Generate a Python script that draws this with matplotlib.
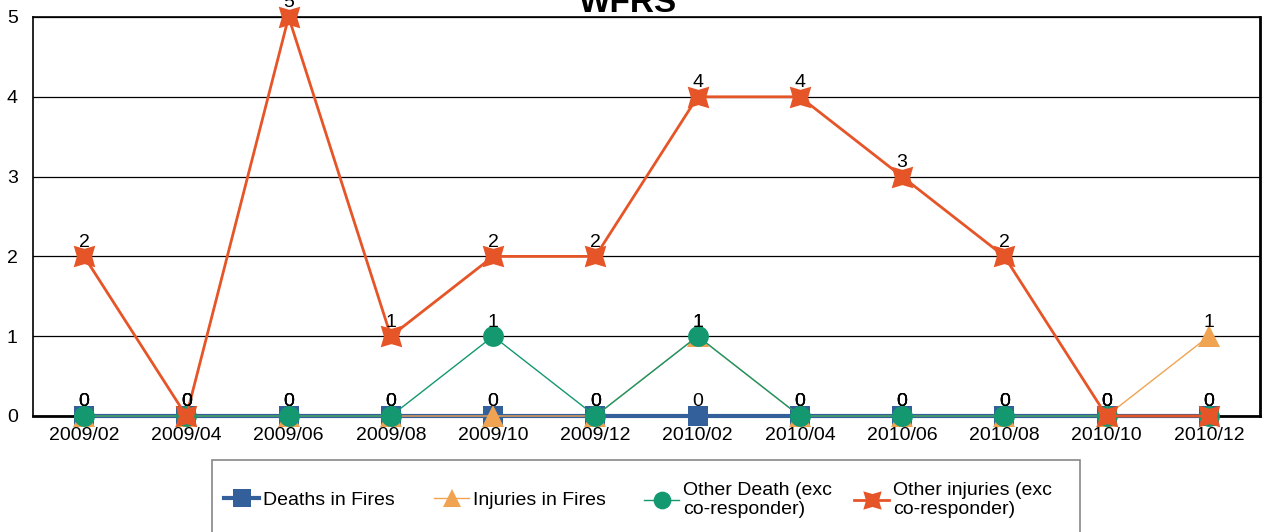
import matplotlib.pyplot as plt
from matplotlib.patches import Rectangle

plt.rcParams['font.family'] = ['Liberation Sans', 'DejaVu Sans']

months = ['2009/02', '2009/04', '2009/06', '2009/08', '2009/10', '2009/12',
          '2010/02', '2010/04', '2010/06', '2010/08', '2010/10', '2010/12']
deaths_fires = [0, 0, 0, 0, 0, 0, 0, 0, 0, 0, 0, 0]
injuries_fires = [0, 0, 0, 0, 0, 0, 1, 0, 0, 0, 0, 1]
other_death = [0, 0, 0, 0, 1, 0, 1, 0, 0, 0, 0, 0]
other_injuries = [2, 0, 5, 1, 2, 2, 4, 4, 3, 2, 0, 0]

x = list(range(len(months)))

fig = plt.figure(figsize=(12.64, 5.32), dpi=100)
ax = fig.add_axes([33 / 1264, 1 - 416 / 532, 1227 / 1264, 399 / 532])

series = [
    ('Deaths in Fires', deaths_fires, '#33609a', 's', 3, 15),
    ('Injuries in Fires', injuries_fires, '#f0a452', '^', 1, 16),
    ('Other Death (exc\nco-responder)', other_death, '#139870', 'o', 1, 15),
    ('Other injuries (exc\nco-responder)', other_injuries, '#e65527', (4, 1, 45), 2, 22),
]

handles = []
for name, vals, col, mk, lw, ms in series:
    ln, = ax.plot(x, vals, color=col, lw=lw, marker=mk, markersize=ms,
                  markeredgewidth=0, label=name, clip_on=False, zorder=3)
    handles.append(ln)
    for xi, v in zip(x, vals):
        ax.annotate(str(v), (xi, v), xytext=(0, 4), textcoords='offset points',
                    ha='center', va='bottom', fontsize=14, zorder=5,
                    annotation_clip=False)

ax.set_xlim(-0.5, 11.5)
ax.set_ylim(0, 5)
ax.set_yticks(range(6))
ax.set_xticks(x)
ax.set_xticklabels(months)
ax.tick_params(labelsize=14, length=0, pad=8)
ax.tick_params(axis='y', pad=11)
ax.grid(axis='y', color='black', lw=0.9)
ax.set_axisbelow(True)
for sp in ax.spines.values():
    sp.set_color('black')
    sp.set_linewidth(1.2)
ax.spines['right'].set_linewidth(2)
ax.spines['bottom'].set_linewidth(2)

fig.text(628 / 1264, 1 - 12 / 532, 'WFRS', ha='center', va='baseline',
         fontsize=24, fontweight='bold')

fig.patches.append(Rectangle((212 / 1264, -0.05), 868 / 1264, 0.05 + 72 / 532,
                             transform=fig.transFigure, fill=False,
                             edgecolor='#888888', lw=1.2))

# equal-width legend columns, one small legend per series
for h, left in zip(handles, [224, 434, 644, 854]):
    fig.legend(handles=[h], loc='center left',
               bbox_to_anchor=(left / 1264, 1 - 500 / 532),
               frameon=False, fontsize=14, handlelength=1.8,
               handletextpad=0.2, borderpad=0, borderaxespad=0,
               markerscale=0.85, labelspacing=0.1)

fig.savefig('out.png', dpi=100)
